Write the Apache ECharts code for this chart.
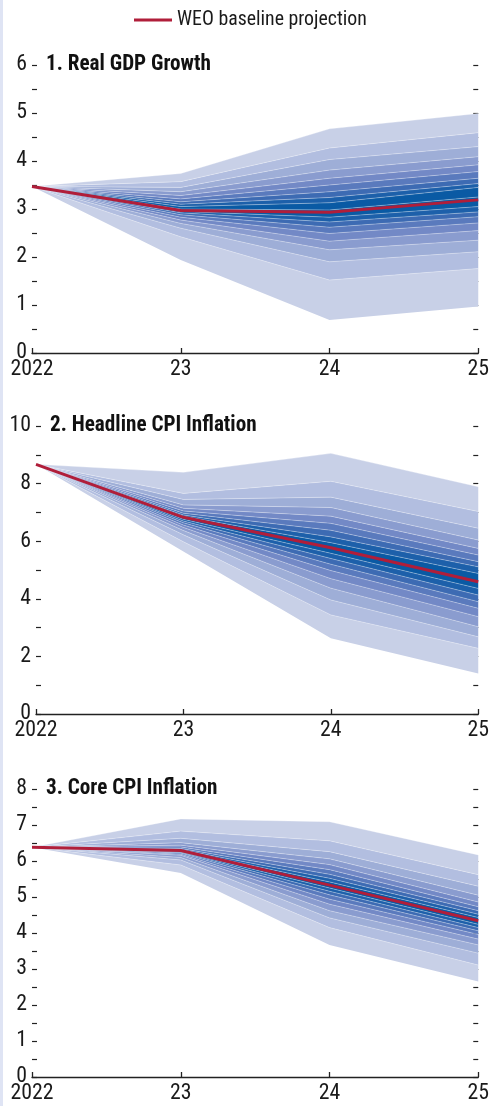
<!DOCTYPE html>
<html><head><meta charset="utf-8">
<script src="https://cdn.jsdelivr.net/npm/echarts@6/dist/echarts.min.js"></script>
<style>
html,body{margin:0;padding:0;background:#fff}
#c{width:492px;height:1106px;position:absolute;left:0;top:0}
#strip{position:absolute;left:0;top:0;width:3px;height:1106px;background:#dfe4f4}
</style></head>
<body><div id="c"></div><div id="strip"></div>
<script>
const years = ['2022', '23', '24', '25'];
const legendName = 'WEO baseline projection';
const panelTitles = ['1. Real GDP Growth', '2. Headline CPI Inflation', '3. Core CPI Inflation'];

// Fan-chart edges: 5th, 10th, ..., 95th percentiles (19 edges) per year
const gdp2022 = [3.47,3.47,3.47,3.47,3.47,3.47,3.47,3.47,3.47,3.47,3.47,3.47,3.47,3.47,3.47,3.47,3.47,3.47,3.47];
const gdp2023 = [1.94,2.42,2.60,2.70,2.77,2.83,2.88,2.92,2.95,3.00,3.05,3.10,3.15,3.21,3.28,3.36,3.45,3.57,3.74];
const gdp2024 = [0.69,1.52,1.90,2.15,2.33,2.49,2.62,2.73,2.83,2.98,3.13,3.24,3.36,3.50,3.64,3.81,4.03,4.27,4.67];
const gdp2025 = [0.97,1.76,2.11,2.35,2.55,2.71,2.84,2.94,3.05,3.25,3.45,3.53,3.64,3.78,3.92,4.09,4.30,4.59,4.99];
const gdpLine = [3.47, 2.97, 2.93, 3.19];

const cpi2022 = [8.67,8.67,8.67,8.67,8.67,8.67,8.67,8.67,8.67,8.67,8.67,8.67,8.67,8.67,8.67,8.67,8.67,8.67,8.67];
const cpi2023 = [5.64,5.98,6.22,6.37,6.48,6.56,6.64,6.70,6.76,6.82,6.87,6.91,6.97,7.05,7.14,7.26,7.45,7.66,8.39];
const cpi2024 = [2.63,3.44,3.96,4.37,4.70,4.98,5.20,5.40,5.58,5.76,5.95,6.15,6.38,6.62,6.87,7.17,7.53,8.08,9.05];
const cpi2025 = [1.41,2.28,2.68,3.03,3.38,3.67,3.90,4.13,4.36,4.59,4.88,5.11,5.29,5.52,5.75,6.04,6.45,7.03,7.89];
const cpiLine = [8.67, 6.83, 5.77, 4.59];

const core2022 = [6.38,6.38,6.38,6.38,6.38,6.38,6.38,6.38,6.38,6.38,6.38,6.38,6.38,6.38,6.38,6.38,6.38,6.38,6.38];
const core2023 = [5.67,5.89,6.03,6.10,6.16,6.19,6.22,6.24,6.26,6.28,6.30,6.32,6.35,6.39,6.44,6.51,6.63,6.83,7.17];
const core2024 = [3.67,4.15,4.42,4.62,4.80,4.94,5.06,5.16,5.25,5.33,5.42,5.52,5.63,5.76,5.90,6.06,6.26,6.56,7.09];
const core2025 = [2.65,3.11,3.44,3.67,3.83,3.96,4.06,4.15,4.24,4.34,4.43,4.52,4.62,4.73,4.86,5.05,5.30,5.62,6.17];
const coreLine = [6.38, 6.29, 5.33, 4.34];

// y-axis ranges
const yMax = [6, 10, 8];
const yTickStep = [0.5, 1, 0.5];
const yLabelStep = [1, 2, 1];

const panels = [
  {edges: [gdp2022, gdp2023, gdp2024, gdp2025], line: gdpLine},
  {edges: [cpi2022, cpi2023, cpi2024, cpi2025], line: cpiLine},
  {edges: [core2022, core2023, core2024, core2025], line: coreLine}
];

const bandColors = ['#c8d0e7','#b2bee0','#9eaed7','#8a9ccf','#7389c6','#5a7abd','#3d6bb3','#1d60aa','#0a5aa4'];
const TXT = '#1a1a1a';

// pick a narrow font if one is installed, then size text to the reference widths
const mctx = document.createElement('canvas').getContext('2d');
function hasFont(name) {
  const s = '2022 WEO baseline projection';
  for (const fb of ['monospace', 'serif']) {
    mctx.font = '40px ' + fb; const w0 = mctx.measureText(s).width;
    mctx.font = "40px '" + name + "'," + fb;
    if (Math.abs(mctx.measureText(s).width - w0) > 0.5) return true;
  }
  return false;
}
const fontCandidates = ['Liberation Sans Narrow', 'Roboto Condensed', 'DejaVu Sans Condensed', 'Liberation Sans'];
const FAM = fontCandidates.find(hasFont) || 'sans-serif';
const FONT = "'" + FAM + "',sans-serif";
function fitSize(text, targetW, weight) {
  mctx.font = weight + ' 100px ' + FONT;
  return Math.max(14, Math.min(24, 100 * targetW / mctx.measureText(text).width));
}
const tickSize = fitSize('2022', 43, 'normal');
const legendSize = fitSize(legendName, 190, 'normal');
const titleSize = fitSize(panelTitles[0], 165, 'bold');

const grids = [
  {left: 32, right: 12, top: 65, height: 288},
  {left: 36, right: 12, top: 426, height: 288},
  {left: 32, right: 12, top: 789, height: 288}
];
const titleX = [46, 50, 46];
const titleY = [65, 426, 789];

const xAxes = [], yAxes = [], series = [], graphics = [];
panels.forEach((p, i) => {
  xAxes.push({
    type: 'category', gridIndex: i, data: years, boundaryGap: false,
    axisLine: {lineStyle: {color: '#222', width: 1.3}},
    axisTick: {inside: true, length: 5, alignWithLabel: true, lineStyle: {color: '#222', width: 1.3}},
    axisLabel: {fontFamily: FONT, fontSize: tickSize, color: TXT, margin: 6}
  });
  const step = yLabelStep[i];
  yAxes.push({
    type: 'value', gridIndex: i, min: 0, max: yMax[i], interval: yTickStep[i], position: 'left',
    axisLine: {show: false}, splitLine: {show: false},
    axisTick: {show: true, inside: true, length: 5, lineStyle: {color: '#222', width: 1.2}},
    axisLabel: {fontFamily: FONT, fontSize: tickSize, color: TXT, margin: 5,
      formatter: v => (Math.abs(v / step - Math.round(v / step)) < 1e-6 ? String(v) : '')}
  });
  yAxes.push({
    type: 'value', gridIndex: i, min: 0, max: yMax[i], interval: yTickStep[i], position: 'right',
    axisLine: {show: false}, splitLine: {show: false}, axisLabel: {show: false},
    axisTick: {show: true, inside: true, length: 5, lineStyle: {color: '#222', width: 1.2}}
  });
  const nEdges = p.edges[0].length;
  for (let k = 0; k < nEdges; k++) {
    const data = p.edges.map(a => k === 0 ? a[0] : +(a[k] - a[k - 1]).toFixed(4));
    const lvl = Math.min(k - 1, nEdges - 2 - (k - 1));
    series.push({
      type: 'line', xAxisIndex: i, yAxisIndex: 2 * i, stack: 'fan' + i, data,
      symbol: 'none', silent: true, z: 2,
      lineStyle: k === 0 ? {width: 0, opacity: 0} : {width: 0.7, color: 'rgba(255,255,255,0.45)'},
      areaStyle: k === 0 ? {opacity: 0} : {color: bandColors[lvl], opacity: 1}
    });
  }
  series.push({
    name: legendName, type: 'line', xAxisIndex: i, yAxisIndex: 2 * i, data: p.line,
    symbol: 'none', z: 5, color: '#b01e3a', lineStyle: {width: 3, color: '#b01e3a'}
  });
  graphics.push({
    type: 'text', x: titleX[i], y: titleY[i], z: 10,
    style: {text: panelTitles[i], fontFamily: FONT, fontSize: titleSize, fontWeight: 'bold',
      fill: '#111', verticalAlign: 'middle', align: 'left'}
  });
});

const chart = echarts.init(document.getElementById('c'), null, {renderer: 'canvas'});
chart.setOption({
  animation: false,
  backgroundColor: '#ffffff',
  legend: {
    data: [{name: legendName, icon: 'rect'}], left: 134, top: 10, padding: 0,
    itemWidth: 38, itemHeight: 3, itemGap: 10,
    textStyle: {fontFamily: FONT, fontSize: legendSize, color: TXT}
  },
  grid: grids,
  xAxis: xAxes,
  yAxis: yAxes,
  series,
  graphic: graphics
});
</script>
</body></html>
